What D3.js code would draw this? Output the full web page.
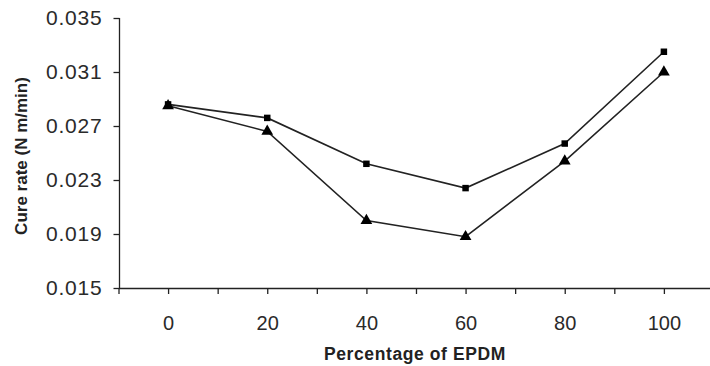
<!DOCTYPE html>
<html>
<head>
<meta charset="utf-8">
<script src="https://cdn.jsdelivr.net/npm/d3@7"></script>
<style>
  html, body { margin: 0; padding: 0; background: #fff; }
  svg { display: block; font-family: "Liberation Sans", Arial, sans-serif; }
</style>
</head>
<body>
<svg id="chart" width="710" height="366"></svg>
<script>
// ---- data ----
const epdm = [0, 20, 40, 60, 80, 100];
const seriesSquare = [0.0286, 0.0276, 0.0242, 0.0224, 0.0257, 0.0325];
const seriesTriangle = [0.0285, 0.0266, 0.0200, 0.0188, 0.0244, 0.0310];
const yTicks = [0.015, 0.019, 0.023, 0.027, 0.031, 0.035];
const xTickLabels = [0, 20, 40, 60, 80, 100];
const xMinorTicks = [-10, 0, 10, 20, 30, 40, 50, 60, 70, 80, 90, 100];
const xTitle = "Percentage of EPDM";
const yTitle = "Cure rate (N m/min)";

const svg = d3.select("#chart");

const x = d3.scaleLinear().domain([-10, 109.3]).range([118.5, 710]);
const y = d3.scaleLinear().domain([0.015, 0.035]).range([288, 18]);

const axisColor = "#222";

// Y axis
const yAxis = svg.append("g").attr("transform", `translate(${x(-10) + 1},0)`)
  .call(d3.axisLeft(y).tickValues(yTicks).tickFormat(d3.format(".3f")).tickSize(6).tickPadding(11));
yAxis.select(".domain").attr("stroke", axisColor).attr("stroke-width", 1.3).attr("d", `M0,${y(0.035)}V${y(0.015)}`);
yAxis.selectAll(".tick line").attr("stroke", axisColor).attr("stroke-width", 1.3);
yAxis.selectAll(".tick text").attr("font-size", 21).attr("letter-spacing", 0.8).attr("fill", "#2a2a2a")
  .attr("font-family", "Liberation Sans, Arial, sans-serif");

// X axis
const xAxis = svg.append("g").attr("transform", `translate(0,${y(0.015)})`)
  .call(d3.axisBottom(x).tickValues(xMinorTicks).tickFormat("").tickSize(6).tickSizeOuter(0));
xAxis.select(".domain").attr("stroke", axisColor).attr("stroke-width", 1.3);
xAxis.selectAll(".tick line").attr("stroke", axisColor).attr("stroke-width", 1.3);

const xLab = svg.append("g").attr("transform", `translate(0,${y(0.015)})`)
  .call(d3.axisBottom(x).tickValues(xTickLabels).tickSize(0).tickPadding(28));
xLab.select(".domain").remove();
xLab.selectAll(".tick text").attr("font-size", 20).attr("fill", "#2a2a2a")
  .attr("font-family", "Liberation Sans, Arial, sans-serif");

// Titles
svg.append("text")
  .attr("x", x(50) - 1).attr("y", 360)
  .attr("text-anchor", "middle")
  .attr("font-size", 17.5).attr("letter-spacing", 0.6).attr("font-weight", "bold").attr("fill", "#222")
  .text(xTitle);

svg.append("text")
  .attr("transform", `translate(27,156) rotate(-90)`)
  .attr("text-anchor", "middle")
  .attr("font-size", 17).attr("font-weight", "bold").attr("fill", "#222")
  .text(yTitle);

// Lines
const line = (vals) => d3.line().x((d, i) => x(epdm[i])).y(d => y(d))(vals);

svg.append("path").attr("d", line(seriesSquare))
  .attr("fill", "none").attr("stroke", "#222").attr("stroke-width", 1.6);
svg.append("path").attr("d", line(seriesTriangle))
  .attr("fill", "none").attr("stroke", "#222").attr("stroke-width", 1.6);

// Markers
svg.append("g").selectAll("path").data(seriesSquare).join("path")
  .attr("transform", (d, i) => `translate(${x(epdm[i])},${y(d)})`)
  .attr("d", d3.symbol(d3.symbolSquare, 42))
  .attr("fill", "#000");

svg.append("g").selectAll("path").data(seriesTriangle).join("path")
  .attr("transform", (d, i) => `translate(${x(epdm[i])},${y(d)})`)
  .attr("d", d3.symbol(d3.symbolTriangle, 60))
  .attr("fill", "#000");
</script>
</body>
</html>
